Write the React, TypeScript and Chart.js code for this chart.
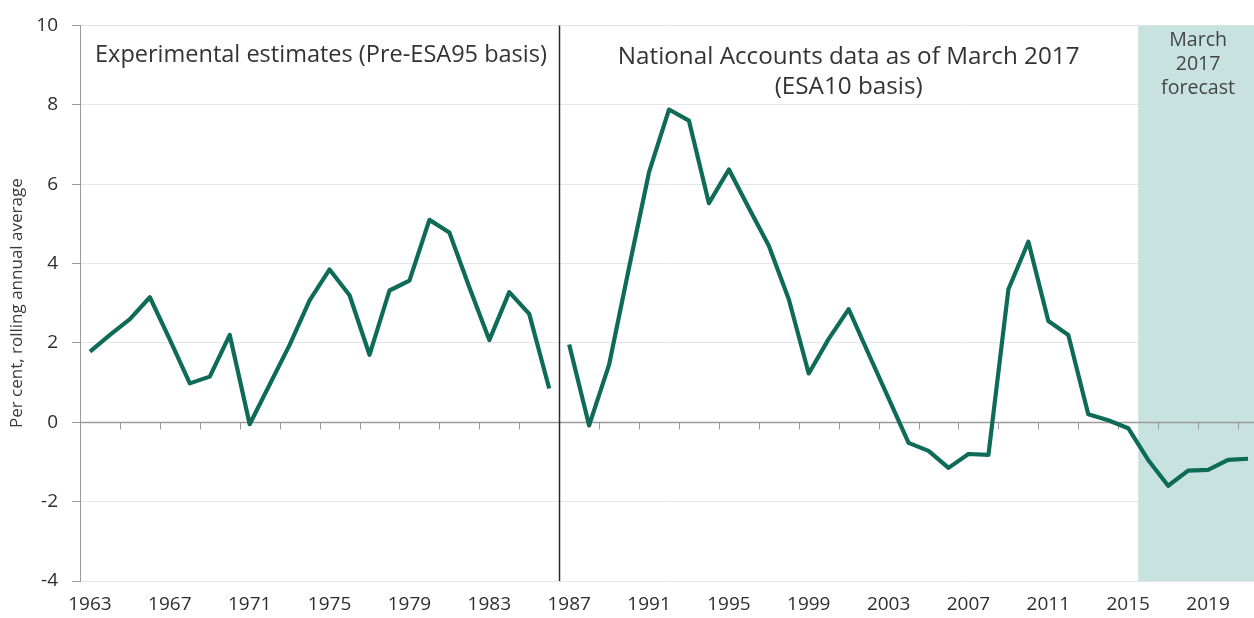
import React, { useEffect, useRef } from 'react';
import { Chart, registerables } from 'chart.js';

Chart.register(...registerables);

const years = [
  '1963', '1964', '1965', '1966', '1967', '1968', '1969', '1970', '1971', '1972',
  '1973', '1974', '1975', '1976', '1977', '1978', '1979', '1980', '1981', '1982',
  '1983', '1984', '1985', '1986', '1987', '1988', '1989', '1990', '1991', '1992',
  '1993', '1994', '1995', '1996', '1997', '1998', '1999', '2000', '2001', '2002',
  '2003', '2004', '2005', '2006', '2007', '2008', '2009', '2010', '2011', '2012',
  '2013', '2014', '2015', '2016', '2017', '2018', '2019', '2020', '2021',
];

// Experimental estimates (Pre-ESA95 basis), 1963-1986
const experimental = [
  1.78, 2.2, 2.6, 3.15, 2.08, 0.98, 1.15, 2.2, -0.05, 0.95,
  1.95, 3.07, 3.85, 3.2, 1.7, 3.32, 3.57, 5.1, 4.78, 3.4,
  2.07, 3.28, 2.73, 0.85,
];

// National Accounts data as of March 2017 (ESA10 basis) + forecast, 1987-2021
const nationalAccounts = [
  1.96, -0.08, 1.45, 3.9, 6.3, 7.88, 7.6, 5.52, 6.37, 5.4,
  4.45, 3.1, 1.23, 2.1, 2.85, 1.72, 0.6, -0.52, -0.72, -1.15,
  -0.8, -0.82, 3.35, 4.55, 2.55, 2.2, 0.2, 0.05, -0.15, -0.95,
  -1.6, -1.22, -1.2, -0.95, -0.92,
];

const tickLabels = [
  '1963', '1967', '1971', '1975', '1979', '1983', '1987', '1991',
  '1995', '1999', '2003', '2007', '2011', '2015', '2019',
];

const seriesBreak = '1987';
const forecastStart = '2016';
const yTicks = [-4, -2, 0, 2, 4, 6, 8, 10];

const FONT = "'Open Sans', 'DejaVu Sans', sans-serif";
const LINE_COLOR = '#0e6b58';
const TEXT_COLOR = '#333333';

function fitSize(ctx: CanvasRenderingContext2D, text: string, target: number) {
  ctx.font = `20px ${FONT}`;
  const w = ctx.measureText(text).width;
  return (20 * target) / w;
}

const overlayPlugin = {
  id: 'overlay',
  beforeDatasetsDraw(chart: any) {
    const { ctx, chartArea: a, scales } = chart;
    const x = scales.x;
    const y = scales.y;
    const half = (x.getPixelForValue(1) - x.getPixelForValue(0)) / 2;
    ctx.save();
    // forecast shading
    const fx = x.getPixelForValue(years.indexOf(forecastStart)) - half;
    ctx.fillStyle = 'rgb(200,226,223)';
    ctx.fillRect(fx, a.top, a.right - fx, a.bottom - a.top);
    // zero axis line with tick marks
    const y0 = Math.round(y.getPixelForValue(0)) + 0.5;
    ctx.strokeStyle = '#9a9a9a';
    ctx.lineWidth = 1.3;
    ctx.beginPath();
    ctx.moveTo(a.left, y0);
    ctx.lineTo(a.right, y0);
    ctx.stroke();
    ctx.lineWidth = 1;
    for (let i = 0; i <= years.length; i += 2) {
      const bx = Math.round(x.getPixelForValue(i) - half) + 0.5;
      ctx.beginPath();
      ctx.moveTo(bx, y0);
      ctx.lineTo(bx, y0 + 7);
      ctx.stroke();
    }
    // series break line
    const bx = Math.round(x.getPixelForValue(years.indexOf(seriesBreak)) - half) + 0.5;
    ctx.strokeStyle = '#2a2a2a';
    ctx.lineWidth = 1.5;
    ctx.beginPath();
    ctx.moveTo(bx, a.top);
    ctx.lineTo(bx, a.bottom);
    ctx.stroke();
    ctx.restore();
  },
  afterDatasetsDraw(chart: any) {
    const { ctx, chartArea: a, scales } = chart;
    const x = scales.x;
    const y = scales.y;
    const half = (x.getPixelForValue(1) - x.getPixelForValue(0)) / 2;
    ctx.save();
    ctx.fillStyle = TEXT_COLOR;
    ctx.textBaseline = 'alphabetic';

    // Left panel label
    const t1 = 'Experimental estimates (Pre-ESA95 basis)';
    const s1 = fitSize(ctx, t1, 452);
    ctx.font = `${s1}px ${FONT}`;
    ctx.textAlign = 'left';
    ctx.fillText(t1, a.left + 15, y.getPixelForValue(9.08));

    // Middle panel label
    const t2 = 'National Accounts data as of March 2017';
    const t3 = '(ESA10 basis)';
    const s2 = fitSize(ctx, t2, 462);
    ctx.font = `${s2}px ${FONT}`;
    ctx.textAlign = 'center';
    const cx = x.getPixelForValue(years.indexOf('2001'));
    ctx.fillText(t2, cx, y.getPixelForValue(9.03));
    ctx.fillText(t3, cx, y.getPixelForValue(8.28));

    // Forecast label
    const fx = x.getPixelForValue(years.indexOf(forecastStart)) - half;
    const fcx = (fx + a.right) / 2;
    const s3 = fitSize(ctx, 'forecast', 74);
    ctx.font = `${s3}px ${FONT}`;
    ctx.fillStyle = '#454545';
    ctx.fillText('March', fcx, y.getPixelForValue(9.48));
    ctx.fillText('2017', fcx, y.getPixelForValue(8.88));
    ctx.fillText('forecast', fcx, y.getPixelForValue(8.28));
    ctx.restore();
  },
};

export default function App() {
  const ref = useRef<HTMLCanvasElement | null>(null);

  useEffect(() => {
    if (!ref.current) return;
    const expData = years.map((_, i) => (i < experimental.length ? experimental[i] : null));
    const naStart = years.indexOf(seriesBreak);
    const naData = years.map((_, i) => (i >= naStart ? nationalAccounts[i - naStart] : null));

    const chart = new Chart(ref.current, {
      type: 'line',
      data: {
        labels: years,
        datasets: [
          {
            data: expData,
            borderColor: LINE_COLOR,
            borderWidth: 4.2,
            pointRadius: 0,
            tension: 0,
            spanGaps: false,
            borderJoinStyle: 'round',
          },
          {
            data: naData,
            borderColor: LINE_COLOR,
            borderWidth: 4.2,
            pointRadius: 0,
            tension: 0,
            spanGaps: false,
            borderJoinStyle: 'round',
          },
        ],
      },
      options: {
        animation: false,
        responsive: false,
        maintainAspectRatio: false,
        devicePixelRatio: 1,
        layout: { padding: { top: 21, right: 0, bottom: 0, left: 0 } },
        plugins: {
          legend: { display: false },
          tooltip: { enabled: false },
        },
        scales: {
          x: {
            type: 'category',
            offset: true,
            grid: { display: false, drawTicks: false },
            border: { display: false },
            ticks: {
              autoSkip: false,
              maxRotation: 0,
              minRotation: 0,
              padding: 12,
              color: '#2e2e2e',
              font: { family: FONT, size: 19 },
              callback: function (this: any, val: any) {
                const lbl = this.getLabelForValue(val);
                return tickLabels.includes(lbl) ? lbl : '';
              },
            },
            afterFit: (scale: any) => {
              scale.height = 37;
            },
          },
          y: {
            min: -4,
            max: 10,
            afterBuildTicks: (scale: any) => {
              scale.ticks = yTicks.map((v) => ({ value: v }));
            },
            grid: {
              color: (c: any) => (c.tick && c.tick.value === 0 ? 'rgba(0,0,0,0)' : '#e6e6e6'),
              tickColor: '#9a9a9a',
              tickLength: 8,
              lineWidth: 1,
            },
            border: { display: true, color: '#9a9a9a', width: 1 },
            ticks: {
              padding: 14,
              color: '#2e2e2e',
              font: { family: FONT, size: 19 },
            },
            title: {
              display: true,
              text: 'Per cent, rolling annual average',
              color: '#3a3a3a',
              font: { family: FONT, size: 17 },
              padding: { top: 7, bottom: 0 },
            },
            afterFit: (scale: any) => {
              scale.width = 80;
            },
          },
        },
      },
      plugins: [overlayPlugin],
    });
    return () => chart.destroy();
  }, []);

  return (
    <div
      style={{
        position: 'fixed',
        left: 0,
        top: 0,
        width: 1254,
        height: 618,
        overflow: 'hidden',
        background: '#fff',
      }}
    >
      <canvas ref={ref} width={1260} height={618} style={{ display: 'block', width: 1260, height: 618 }} />
    </div>
  );
}
